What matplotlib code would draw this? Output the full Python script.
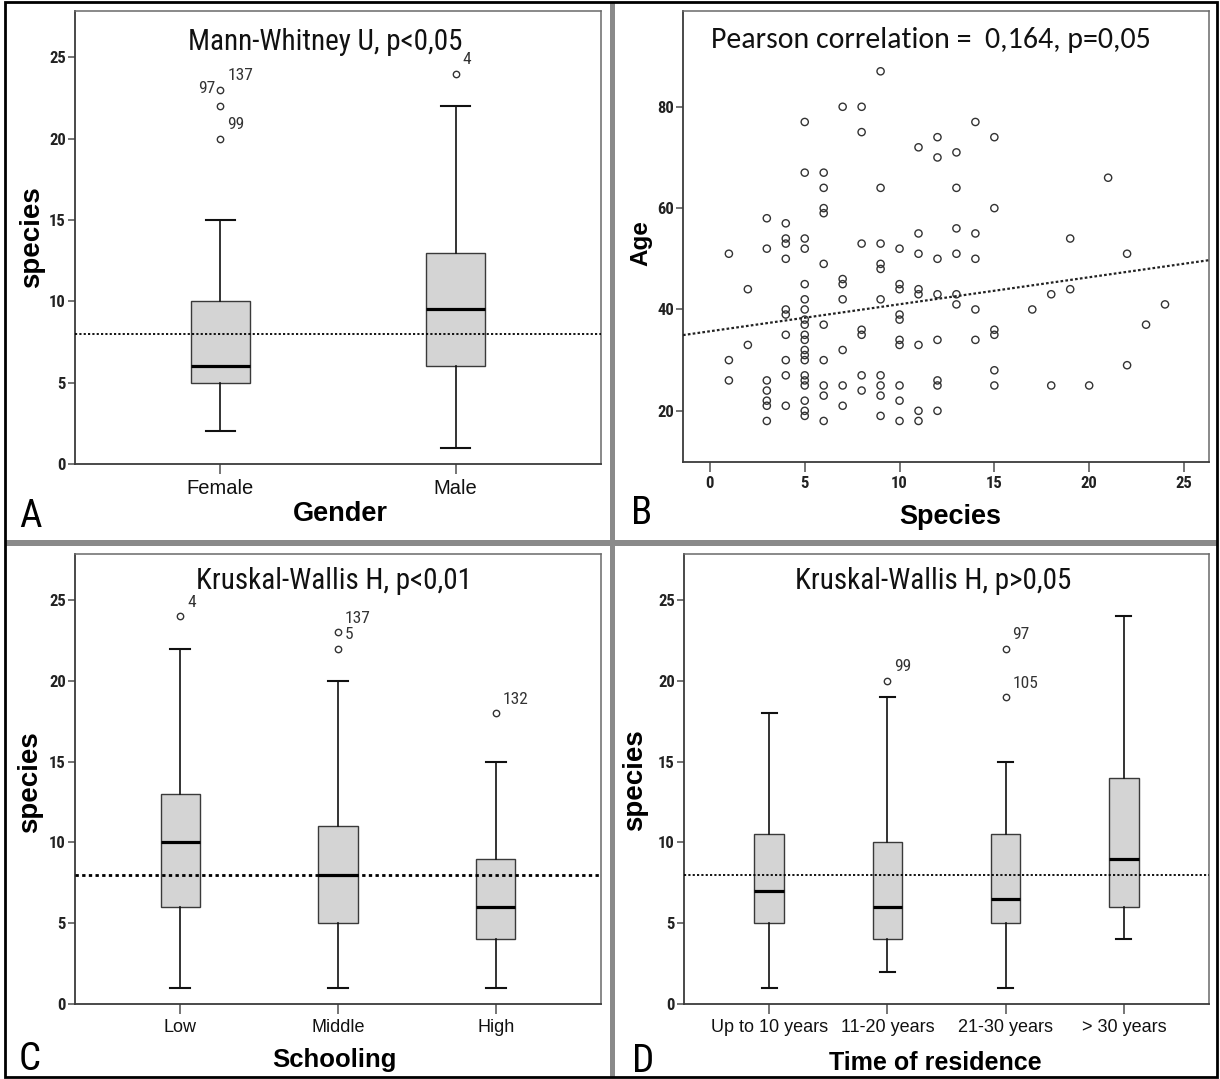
import numpy as np
import matplotlib
matplotlib.use("Agg")
import matplotlib.pyplot as plt
import matplotlib.font_manager as fm
from matplotlib.patches import Rectangle

# ---------------- data ----------------
ref_line_value = 8

gender_labels = ["Female", "Male"]
gender_whislo = [2, 1]
gender_q1 = [5, 6]
gender_med = [6, 9.5]
gender_q3 = [10, 13]
gender_whishi = [15, 22]
gender_outliers = [[23, 22, 20], [24]]
gender_outlier_ids = [[(23, "137", "r"), (23, "97", "l"), (20, "99", "r")], [(24, "4", "r")]]

school_labels = ["Low", "Middle", "High"]
school_whislo = [1, 1, 1]
school_q1 = [6, 5, 4]
school_med = [10, 8, 6]
school_q3 = [13, 11, 9]
school_whishi = [22, 20, 15]
school_outliers = [[24], [23, 22], [18]]
school_outlier_ids = [[(24, "4", "r")], [(23, "137", "r"), (22, "5", "r")], [(18, "132", "r")]]

resid_labels = ["Up to 10 years", "11-20 years", "21-30 years", "> 30 years"]
resid_whislo = [1, 2, 1, 4]
resid_q1 = [5, 4, 5, 6]
resid_med = [7, 6, 6.5, 9]
resid_q3 = [10.5, 10, 10.5, 14]
resid_whishi = [18, 19, 15, 24]
resid_outliers = [[], [20], [22, 19], []]
resid_outlier_ids = [[], [(20, "99", "r")], [(22, "97", "r"), (19, "105", "r")], []]

scatter_species = (
    [1] * 3 + [2] * 2 + [3] * 7 + [4] * 10 + [5] * 20 + [6] * 10 + [7] * 7 + [8] * 7
    + [9] * 10 + [10] * 10 + [11] * 8 + [12] * 8 + [13] * 6 + [14] * 5 + [15] * 6
    + [17] + [18] * 2 + [19] * 2 + [20] + [21] + [22] * 2 + [23] + [24]
)
scatter_age = [
    51, 30, 26,
    44, 33,
    58, 52, 26, 24, 22, 21, 18,
    57, 54, 53, 50, 40, 39, 35, 30, 27, 21,
    77, 67, 54, 52, 45, 42, 40, 38, 37, 35, 34, 32, 31, 30, 27, 26, 25, 22, 20, 19,
    67, 64, 60, 59, 49, 37, 30, 25, 23, 18,
    80, 46, 45, 42, 32, 25, 21,
    80, 75, 53, 36, 35, 27, 24,
    87, 64, 53, 49, 48, 42, 27, 25, 23, 19,
    52, 45, 44, 39, 38, 34, 33, 25, 22, 18,
    72, 55, 51, 44, 43, 33, 20, 18,
    74, 70, 50, 43, 34, 26, 25, 20,
    71, 64, 56, 51, 43, 41,
    77, 55, 50, 40, 34,
    74, 60, 36, 35, 28, 25,
    40,
    43, 25,
    54, 44,
    25,
    66,
    51, 29,
    37,
    41,
]
fit_intercept = 35.7
fit_slope = 0.533

titles = ["Mann-Whitney U, p<0,05", "Pearson correlation =  0,164, p=0,05",
          "Kruskal-Wallis H, p<0,01", "Kruskal-Wallis H, p>0,05"]

# ---------------- fonts ----------------
names = {f.name for f in fm.fontManager.ttflist}
def pick(cands, default="DejaVu Sans"):
    for c in cands:
        if c in names:
            return c
    return default

COND = pick(["Roboto Condensed", "Liberation Sans Narrow", "Arial Narrow", "DejaVu Sans"])
SANS = pick(["Liberation Sans", "Arial", "DejaVu Sans"])
CALI = pick(["Carlito", "Lato", "Open Sans"])
STRETCH = "condensed"

# ---------------- figure ----------------
W, H = 1220, 1079
fig = plt.figure(figsize=(W / 100, H / 100), dpi=100)
fig.patch.set_facecolor("white")

def fx(px):
    return px / W

def fy(py):
    return 1 - py / H

def axes_rect(l, t, r, b):
    return [fx(l), fy(b), fx(r) - fx(l), fy(t) - fy(b)]

FRAME = "#505050"

def style_axes(ax):
    for s in ax.spines.values():
        s.set_color("#6a6a6a")
        s.set_linewidth(1.1)
    for k in ("left", "bottom"):
        ax.spines[k].set_color("#3a3a3a")
        ax.spines[k].set_linewidth(1.3)
    ax.tick_params(direction="out", length=5, width=1.1, color=FRAME, pad=1.5)
    ax.set_facecolor("white")


def box_panel(rect, labels, wlo, q1, med, q3, whi, outl, ids, xpad, catsize, refw):
    ax = fig.add_axes(rect)
    style_axes(ax)
    stats = []
    for i, lab in enumerate(labels):
        stats.append(dict(whislo=wlo[i], q1=q1[i], med=med[i], q3=q3[i], whishi=whi[i],
                          fliers=outl[i], label=lab))
    pos = np.arange(1, len(labels) + 1)
    ax.bxp(stats, positions=pos, widths=0.25, capwidths=0.125, patch_artist=True,
           boxprops=dict(facecolor="#d4d4d4", edgecolor="#3a3a3a", linewidth=1.0),
           medianprops=dict(color="black", linewidth=2.3, solid_capstyle="butt"),
           whiskerprops=dict(color="#111111", linewidth=1.2),
           capprops=dict(color="#111111", linewidth=1.5),
           flierprops=dict(marker="o", markerfacecolor="none", markeredgecolor="#333333",
                           markersize=4.6, markeredgewidth=1.0))
    ax.axhline(ref_line_value, color="black", linestyle=(0, (1.2, 1.2)), linewidth=refw, zorder=5)
    ax.set_xlim(1 - xpad, len(labels) + xpad)
    ax.set_ylim(0, 27.85)
    ax.set_yticks([0, 5, 10, 15, 20, 25])
    ax.set_yticklabels(["0", "5", "10", "15", "20", "25"], fontfamily=COND, fontstretch=STRETCH,
                       fontsize=12, fontweight="bold", color="#222222")
    ax.set_xticks(pos)
    ax.set_xticklabels(labels, fontfamily=SANS, fontsize=catsize, color="#111111")
    ax.tick_params(axis="x", length=7, pad=4)
    for i, lst in enumerate(ids):
        for val, txt, side in lst:
            if side == "r":
                ax.annotate(txt, (pos[i], val), xytext=(5, 10), textcoords="offset points",
                            ha="left", va="center", fontfamily=COND, fontstretch=STRETCH,
                            fontsize=12.5, color="#333333")
            else:
                ax.annotate(txt, (pos[i], val), xytext=(-3.5, 1), textcoords="offset points",
                            ha="right", va="center", fontfamily=COND, fontstretch=STRETCH,
                            fontsize=12.5, color="#333333")
    return ax

# Panel A
axA = box_panel(axes_rect(75, 11, 601, 464), gender_labels, gender_whislo, gender_q1, gender_med,
                gender_q3, gender_whishi, gender_outliers, gender_outlier_ids, 0.617, 14.5, 1.3)
# Panel C
axC = box_panel(axes_rect(75, 554, 601, 1004), school_labels, school_whislo, school_q1, school_med,
                school_q3, school_whishi, school_outliers, school_outlier_ids, 0.667, 13, 2.0)
# Panel D
axD = box_panel(axes_rect(684, 554, 1209, 1004), resid_labels, resid_whislo, resid_q1, resid_med,
                resid_q3, resid_whishi, resid_outliers, resid_outlier_ids, 0.72, 13, 1.3)

# Panel B scatter
axB = fig.add_axes(axes_rect(683, 11, 1209, 462))
style_axes(axB)
axB.scatter(scatter_species, scatter_age, s=27, facecolors="none", edgecolors="#333333",
            linewidths=1.0, zorder=3)
xlo, xhi = -1.42, 26.32
xx = np.array([xlo, xhi])
axB.plot(xx, fit_intercept + fit_slope * xx, color="#222222", linestyle=(0, (1.2, 1.0)),
         linewidth=1.6, zorder=4)
axB.set_xlim(xlo, xhi)
axB.set_ylim(9.9, 98.9)
axB.set_xticks([0, 5, 10, 15, 20, 25])
axB.set_xticklabels(["0", "5", "10", "15", "20", "25"], fontfamily=COND, fontstretch=STRETCH,
                    fontsize=12, fontweight="bold", color="#222222")
axB.set_yticks([20, 40, 60, 80])
axB.set_yticklabels(["20", "40", "60", "80"], fontfamily=COND, fontstretch=STRETCH,
                    fontsize=12, fontweight="bold", color="#222222")
axB.tick_params(axis="x", length=7, pad=3)

# ---------------- texts ----------------
def ftext(px, py, s, **kw):
    fig.text(fx(px), fy(py), s, ha="center", va="center", **kw)

ftext(325, 42, titles[0], fontfamily=COND, fontstretch=STRETCH, fontsize=21, color="#111111")
ftext(931, 40, titles[1], fontfamily=CALI, fontsize=21.5, color="#111111")
ftext(334, 581, titles[2], fontfamily=COND, fontstretch=STRETCH, fontsize=21, color="#111111")
ftext(933, 581, titles[3], fontfamily=COND, fontstretch=STRETCH, fontsize=21, color="#111111")

ftext(340, 514, "Gender", fontfamily=SANS, fontweight="bold", fontsize=19.5, color="black")
ftext(950, 517, "Species", fontfamily=SANS, fontweight="bold", fontsize=19.5, color="black")
ftext(334, 1060, "Schooling", fontfamily=SANS, fontweight="bold", fontsize=18.5, color="black")
ftext(935, 1063, "Time of residence", fontfamily=SANS, fontweight="bold", fontsize=18, color="black")

ftext(32, 237, "species", rotation=90, fontfamily=SANS, fontweight="bold", fontsize=20, color="black")
ftext(30, 782, "species", rotation=90, fontfamily=SANS, fontweight="bold", fontsize=20, color="black")
ftext(635, 780, "species", rotation=90, fontfamily=SANS, fontweight="bold", fontsize=20, color="black")
ftext(641, 243, "Age", rotation=90, fontfamily=SANS, fontweight="bold", fontsize=17.5, color="black")

for lx, ly, letter in [(30, 517, "A"), (642, 513, "B"), (30, 1060, "C"), (643, 1062, "D")]:
    ftext(lx, ly, letter, fontfamily=COND, fontstretch=STRETCH, fontsize=28, color="black")

# ---------------- frame & separators ----------------
GRAY = "#8a8a8a"
fig.add_artist(Rectangle((fx(610), fy(1077)), fx(615) - fx(610), fy(3) - fy(1077),
                         transform=fig.transFigure, facecolor=GRAY, edgecolor="none", zorder=10))
fig.add_artist(Rectangle((fx(5), fy(546)), fx(1217) - fx(5), fy(540) - fy(546),
                         transform=fig.transFigure, facecolor=GRAY, edgecolor="none", zorder=10))
fig.add_artist(Rectangle((fx(5), fy(1077)), fx(1217) - fx(5), fy(2) - fy(1077),
                         transform=fig.transFigure, facecolor="none", edgecolor="black",
                         linewidth=2, zorder=11))

fig.savefig("out.png", dpi=100, facecolor="white")
